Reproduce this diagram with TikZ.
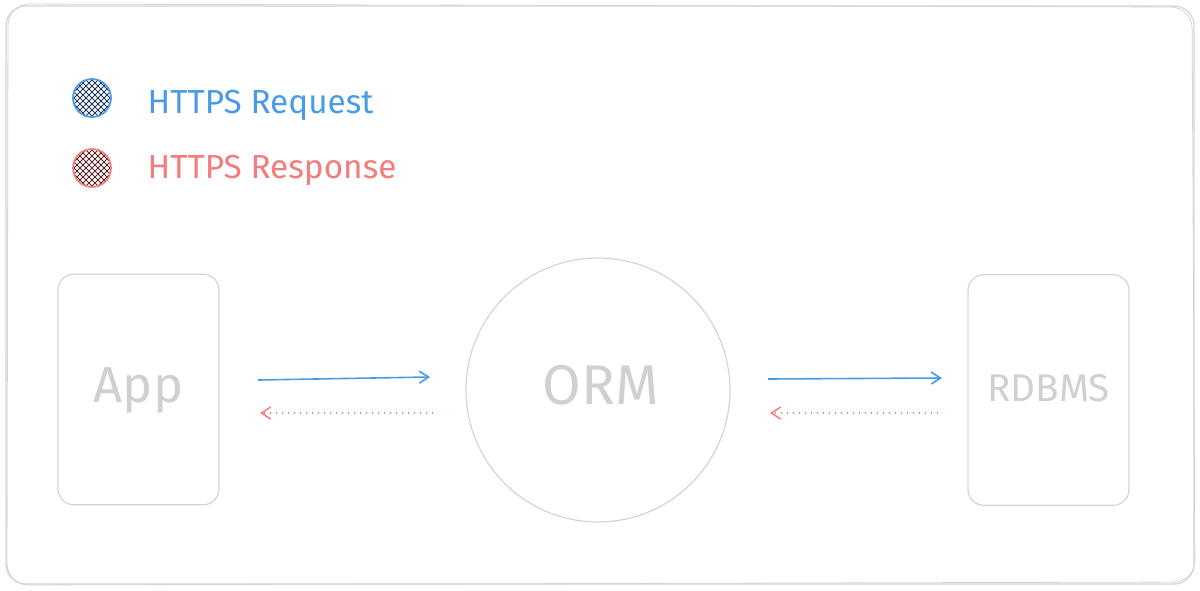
\documentclass[tikz,border=0pt]{standalone}
\usepackage{fontspec}
\setmainfont{Fira Sans}
\usetikzlibrary{arrows.meta}
\definecolor{reqblue}{HTML}{4A9BE6}
\definecolor{resred}{HTML}{F47C7C}
\definecolor{linegray}{HTML}{D4D4D4}
\definecolor{textgray}{HTML}{D0D0D0}
\definecolor{hatchblue}{HTML}{1F3A5A}
\definecolor{hatchred}{HTML}{5A2A2A}
\tikzset{
  sketch/.style={draw=linegray, line width=0.9pt},
  boxnode/.style={sketch, rounded corners=12pt, minimum width=120.75pt, minimum height=173pt, inner sep=0pt},
  circnode/.style={sketch, circle, minimum size=198pt, inner sep=0pt},
  lbl/.style={text=textgray},
  legtext/.style={anchor=west, font=\fontsize{25}{29}\selectfont},
  reqarrow/.style={draw=reqblue, line width=1.2pt, -{Straight Barb[length=7pt,width=9pt,line width=1.2pt]}},
  resarrow/.style={draw=resred, line width=1.2pt, dash pattern=on 1.1pt off 3.4pt, -{Straight Barb[length=7pt,width=9pt,line width=1.1pt]}},
}
\begin{document}
\begin{tikzpicture}[x=0.75pt,y=-0.75pt]
\useasboundingbox (0,0) rectangle (1200,590);
% outer frame (sketchy double stroke)
\draw[sketch, rounded corners=15pt] (6,6) rectangle (1194,584);
\draw[draw=linegray, line width=0.6pt, rounded corners=16pt] (8,4) -- (1192,7) -- (1195,582) -- (7,585) -- cycle;
% legend
\foreach \cy/\hc/\bc in {98/hatchblue/reqblue, 168/hatchred/resred} {
  \begin{scope}
    \clip (92,\cy) circle (19);
    \foreach \k in {-48,-42,...,48} {
      \draw[\hc, line width=0.7pt] (92+\k-25,\cy-25) -- (92+\k+25,\cy+25);
      \draw[\hc, line width=0.7pt] (92+\k-25,\cy+25) -- (92+\k+25,\cy-25);
    }
  \end{scope}
  \draw[draw=\bc, line width=1.3pt] (92,\cy) circle (19);
}
\node[legtext, text=reqblue] (req) at (143,105) {HTTPS Request};
\node[legtext, text=resred] (res) at (143,170) {HTTPS Response};
% nodes
\node[boxnode] (app) at (138.5,389.5) {};
\node[lbl, font=\fontsize{38}{42}\selectfont] at (138.5,390) {App};
\node[circnode] (orm) at (598,390) {};
\node[lbl, font=\fontsize{42}{46}\selectfont] at (601,385) {ORM};
\node[boxnode] (db) at (1048.5,390) {};
\node[lbl, font=\fontsize{29}{33}\selectfont] at (1048.5,388) {RDBMS};
% connectors
\coordinate (a1) at (258,380); \coordinate (o1) at (430,377);
\coordinate (o2) at (433,413); \coordinate (a2) at (260,413);
\coordinate (o3) at (768,379); \coordinate (d1) at (942,378);
\coordinate (d2) at (938,413); \coordinate (o4) at (770,413);
\draw[reqarrow] (a1) -- (o1);
\draw[resarrow] (o2) -- (a2);
\draw[reqarrow] (o3) -- (d1);
\draw[resarrow] (d2) -- (o4);
\end{tikzpicture}
\end{document}
